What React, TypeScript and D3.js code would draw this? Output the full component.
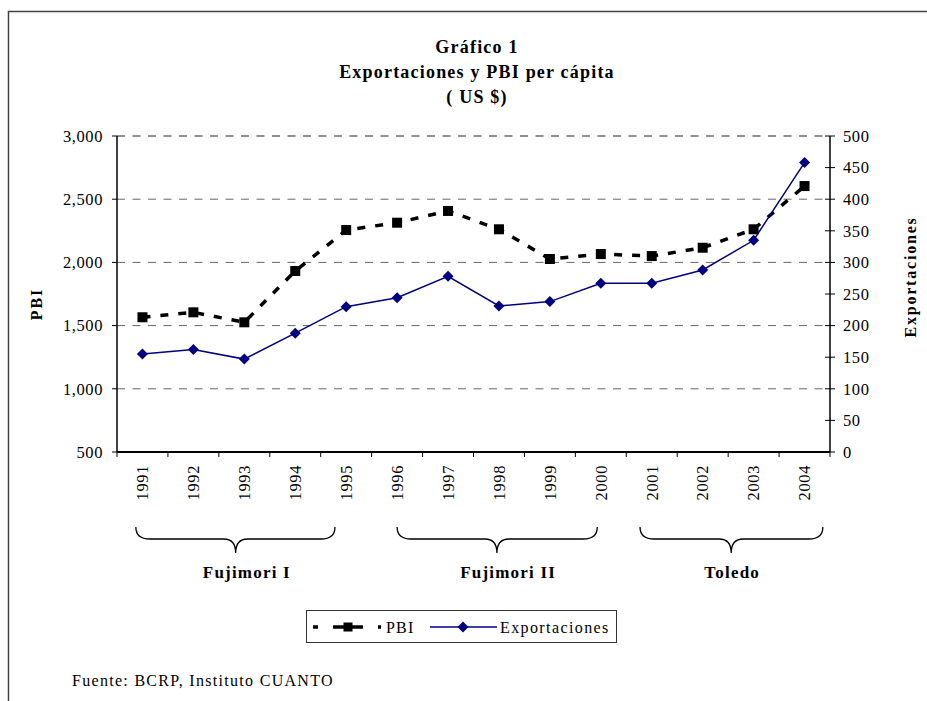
import React from "react";
import * as d3 from "d3";

const years = ["1991","1992","1993","1994","1995","1996","1997","1998","1999","2000","2001","2002","2003","2004"];
const pbi = [1566, 1605, 1526, 1932, 2256, 2314, 2407, 2262, 2027, 2066, 2050, 2116, 2262, 2604];
const exportaciones = [155, 162, 147, 188, 230, 244, 278, 231, 238, 267, 267, 288, 335, 458];
const leftTicks = [500, 1000, 1500, 2000, 2500, 3000];
const rightTicks = [0, 50, 100, 150, 200, 250, 300, 350, 400, 450, 500];
const periodLabels = ["Fujimori I", "Fujimori II", "Toledo"];
// brace extents in band units (start, tip, end, label centre)
const periodStart = [0.37, 5.5, 10.27];
const periodTip = [2.33, 7.46, 12.06];
const periodEnd = [4.28, 9.43, 13.86];
const periodLabelPos = [2.55, 7.68, 12.08];
const titleLines = ["Gráfico 1", "Exportaciones y PBI per cápita", "( US $)"];

const W = 927, H = 701;
const L = 117, R = 830, T = 136, B = 452;
const FONT = "'Liberation Serif', 'Times New Roman', serif";

export default function App() {
  const x = d3.scaleBand<string>().domain(years).range([L, R]).paddingInner(0).paddingOuter(0);
  const xc = (y: string) => (x(y) as number) + x.bandwidth() / 2;
  const bandScale = d3.scaleLinear().domain([0, years.length]).range([L, R]);
  const yL = d3.scaleLinear().domain([500, 3000]).range([B, T]);
  const yR = d3.scaleLinear().domain([0, 500]).range([B, T]);

  const pbiLine = d3.line<number>().x((_, i) => xc(years[i])).y((d) => yL(d));
  const expLine = d3.line<number>().x((_, i) => xc(years[i])).y((d) => yR(d));

  const diamond = (cx: number, cy: number, r: number) =>
    `M${cx},${cy - r}L${cx + r},${cy}L${cx},${cy + r}L${cx - r},${cy}Z`;

  const brace = (x1: number, tip: number, x2: number) => {
    const y0 = 527, y1 = 539, y2 = 553;
    return `M${x1},${y0} Q${x1},${y1} ${x1 + 14},${y1} L${tip - 12},${y1} Q${tip},${y1} ${tip},${y2} Q${tip},${y1} ${tip + 12},${y1} L${x2 - 14},${y1} Q${x2},${y1} ${x2},${y0}`;
  };

  return (
    <svg width={W} height={H} style={{ position: "absolute", left: 0, top: 0, background: "#fff" }} fontFamily={FONT}>
      <rect x={0} y={0} width={W} height={H} fill="#fff" />
      <rect x={8.5} y={11.5} width={1000} height={800} fill="none" stroke="#444" strokeWidth={1.5} />

      {/* Title */}
      {titleLines.map((t, i) => (
        <text key={t} x={477} y={53 + i * 25} textAnchor="middle" fontWeight="bold" fontSize={18} letterSpacing={1.2}>
          {t}
        </text>
      ))}

      {/* Gridlines */}
      {leftTicks.filter((t) => t > 500).map((t) => (
        <line key={"g" + t} x1={L} x2={R} y1={yL(t)} y2={yL(t)} stroke={t === 3000 ? "#222" : "#666"} strokeWidth={1} strokeDasharray="8,7.5" />
      ))}

      {/* Left axis */}
      <line x1={L} x2={L} y1={T} y2={B} stroke="#000" strokeWidth={1.5} />
      {leftTicks.map((t) => (
        <g key={"l" + t}>
          <line x1={L - 5} x2={L} y1={yL(t)} y2={yL(t)} stroke="#000" />
          <text x={103} y={yL(t)} dy="0.35em" textAnchor="end" fontSize={16.5} letterSpacing={0.6}>
            {d3.format(",")(t)}
          </text>
        </g>
      ))}
      <text transform={`translate(42,304) rotate(-90)`} textAnchor="middle" fontWeight="bold" fontSize={16} letterSpacing={2}>PBI</text>

      {/* Right axis */}
      <line x1={R} x2={R} y1={T} y2={B} stroke="#000" strokeWidth={1.5} />
      {rightTicks.map((t) => (
        <g key={"r" + t}>
          <line x1={R - 5} x2={R + 5} y1={yR(t)} y2={yR(t)} stroke="#000" />
          <text x={843} y={yR(t)} dy="0.35em" textAnchor="start" fontSize={16.5} letterSpacing={0.6}>
            {t}
          </text>
        </g>
      ))}
      <text transform={`translate(916,277) rotate(-90)`} textAnchor="middle" fontWeight="bold" fontSize={16} letterSpacing={1.8}>Exportaciones</text>

      {/* Bottom axis */}
      <line x1={L} x2={R} y1={B} y2={B} stroke="#000" strokeWidth={2} />
      {years.map((y) => (
        <line key={"bt" + y} x1={x(y) as number} x2={x(y) as number} y1={B} y2={B + 5} stroke="#000" />
      ))}
      <line x1={R} x2={R} y1={B} y2={B + 5} stroke="#000" />
      {years.map((y) => (
        <text key={"bl" + y} transform={`translate(${xc(y)},${465}) rotate(-90)`} textAnchor="end" dy="0.35em" fontSize={16.5} letterSpacing={0.6}>
          {y}
        </text>
      ))}

      {/* Braces & period labels */}
      {periodLabels.map((p, i) => (
        <g key={p}>
          <path d={brace(bandScale(periodStart[i]), bandScale(periodTip[i]), bandScale(periodEnd[i]))} fill="none" stroke="#000" strokeWidth={1.3} />
          <text x={bandScale(periodLabelPos[i])} y={578} textAnchor="middle" fontWeight="bold" fontSize={17} letterSpacing={1.2}>
            {p}
          </text>
        </g>
      ))}

      {/* PBI series */}
      <path d={pbiLine(pbi) || ""} fill="none" stroke="#000" strokeWidth={3.5} strokeDasharray="8,10" />
      {pbi.map((v, i) => (
        <rect key={"pm" + i} x={xc(years[i]) - 5} y={yL(v) - 5} width={10} height={10} fill="#000" />
      ))}

      {/* Exportaciones series */}
      <path d={expLine(exportaciones) || ""} fill="none" stroke="#000080" strokeWidth={1.5} />
      {exportaciones.map((v, i) => (
        <path key={"em" + i} d={diamond(xc(years[i]), yR(v), 5.5)} fill="#000080" />
      ))}

      {/* Legend */}
      <rect x={306.5} y={610.5} width={310} height={32} fill="#fff" stroke="#333" strokeWidth={1} />
      <line x1={313} x2={381} y1={627} y2={627} stroke="#000" strokeWidth={3.5} strokeDasharray="5,15,11,8,11,15,5" />
      <rect x={343.5} y={622.5} width={9} height={9} fill="#000" />
      <text x={386} y={627} dy="0.35em" fontSize={16} letterSpacing={1.2}>PBI</text>
      <line x1={430} x2={497} y1={627} y2={627} stroke="#000080" strokeWidth={1.5} />
      <path d={diamond(463, 627, 5.5)} fill="#000080" />
      <text x={500} y={627} dy="0.35em" fontSize={16} letterSpacing={1.4}>Exportaciones</text>

      {/* Source */}
      <text x={72} y={686} fontSize={16} letterSpacing={1.3}>Fuente: BCRP, Instituto CUANTO</text>
    </svg>
  );
}
